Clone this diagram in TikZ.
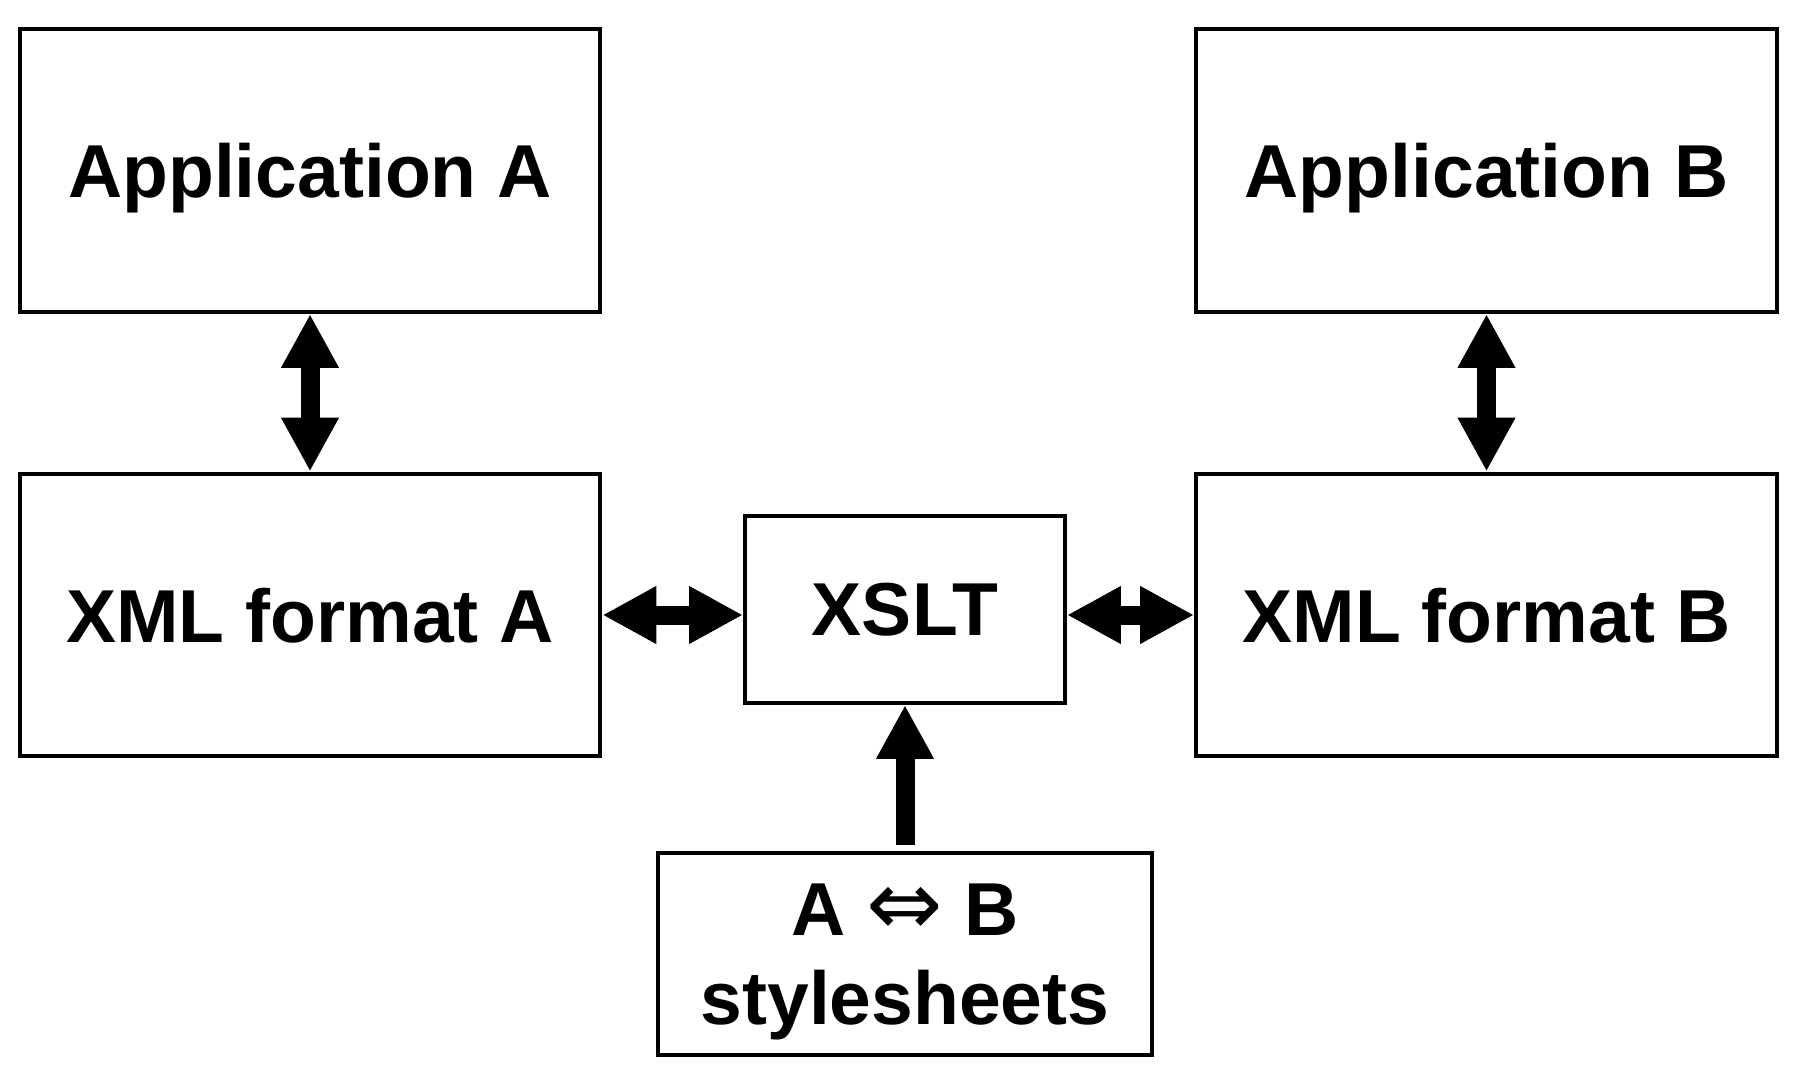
\documentclass[tikz,border=0pt]{standalone}
\usepackage{fontspec}
\setmainfont{Liberation Sans}
\newfontfamily\arrowfont{DejaVu Sans}
\usepackage{tikz}
\usetikzlibrary{arrows.meta, positioning}

\begin{document}
\begin{tikzpicture}[x=0.02cm, y=-0.02cm,
    box/.style={draw, line width=0.08cm, inner sep=0pt, align=center,
      text depth=0pt, font=\fontsize{42.7}{50.4}\selectfont\bfseries},
    bigbox/.style={box, minimum width=11.62cm, minimum height=5.66cm},
    fat/.style={line width=0.38cm},
    >={Triangle[length=1.08cm, width=1.08cm]}]
          \useasboundingbox (0, 0) rectangle (1803, 1072);
          \node[bigbox] (appA) at (310, 170.5) {Application A};
          \node[bigbox] (appB) at (1486.5, 170.5) {Application B};
          \node[bigbox] (xmlA) at (310, 615) {XML format A};
          \node[bigbox] (xmlB) at (1486.5, 615) {XML format B};
          \node[box, minimum width=6.4cm, minimum height=3.74cm]
            (xslt) at (905, 609.5) {XSLT};
          \node[box, minimum width=9.88cm, minimum height=4.04cm]
            (sheets) at (905, 954)
            {A {\arrowfont\mdseries\fontsize{52}{50.4}\selectfont ⇔} B\\stylesheets};
          \draw[fat, <->] (appA.south) -- (xmlA.north);
          \draw[fat, <->] (appB.south) -- (xmlB.north);
          \draw[fat, <->] (xmlA.east) -- (xmlA.east -| xslt.west);
          \draw[fat, <->] (xmlB.west -| xslt.east) -- (xmlB.west);
          \draw[fat, ->] ([yshift=0.12cm]sheets.north) -- (xslt.south);
        \end{tikzpicture}
\end{document}
